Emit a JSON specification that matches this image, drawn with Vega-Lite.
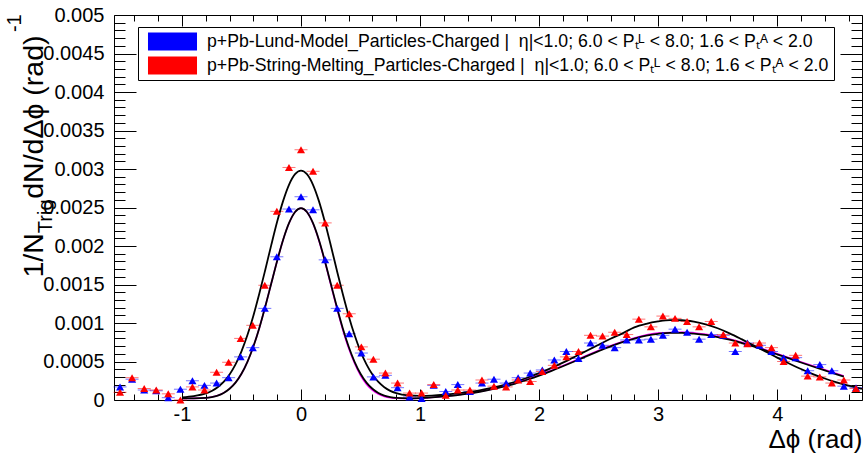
{
"$schema":"https://vega.github.io/schema/vega-lite/v6.json",
"width":748,"height":385,
"autosize":{"type":"none"},
"padding":{"left":114,"top":15,"right":1,"bottom":59},
"background":"white",
"datasets":{
"pts":[
{"x":-1.520,"y":0.00017,"s":"Lund"},{"x":-1.419,"y":0.00027,"s":"Lund"},{"x":-1.317,"y":0.00013,"s":"Lund"},{"x":-1.216,"y":0.00012,"s":"Lund"},{"x":-1.115,"y":0.00003,"s":"Lund"},{"x":-1.013,"y":0.00014,"s":"Lund"},{"x":-0.912,"y":0.00025,"s":"Lund"},{"x":-0.811,"y":0.00019,"s":"Lund"},{"x":-0.709,"y":0.00022,"s":"Lund"},{"x":-0.608,"y":0.00029,"s":"Lund"},{"x":-0.507,"y":0.00056,"s":"Lund"},{"x":-0.405,"y":0.00068,"s":"Lund"},{"x":-0.304,"y":0.00119,"s":"Lund"},{"x":-0.203,"y":0.00186,"s":"Lund"},{"x":-0.101,"y":0.00248,"s":"Lund"},{"x":0,"y":0.00264,"s":"Lund"},{"x":0.101,"y":0.00247,"s":"Lund"},{"x":0.203,"y":0.00182,"s":"Lund"},{"x":0.304,"y":0.00119,"s":"Lund"},{"x":0.405,"y":0.00086,"s":"Lund"},{"x":0.507,"y":0.00061,"s":"Lund"},{"x":0.608,"y":0.00030,"s":"Lund"},{"x":0.709,"y":0.00032,"s":"Lund"},{"x":0.811,"y":0.00016,"s":"Lund"},{"x":0.912,"y":0.00004,"s":"Lund"},{"x":1.013,"y":0.00002,"s":"Lund"},{"x":1.115,"y":0.00019,"s":"Lund"},{"x":1.216,"y":0.00011,"s":"Lund"},{"x":1.317,"y":0.00020,"s":"Lund"},{"x":1.419,"y":0.00011,"s":"Lund"},{"x":1.520,"y":0.00022,"s":"Lund"},{"x":1.621,"y":0.00027,"s":"Lund"},{"x":1.723,"y":0.00022,"s":"Lund"},{"x":1.824,"y":0.00029,"s":"Lund"},{"x":1.925,"y":0.00035,"s":"Lund"},{"x":2.027,"y":0.00039,"s":"Lund"},{"x":2.128,"y":0.00052,"s":"Lund"},{"x":2.229,"y":0.00063,"s":"Lund"},{"x":2.331,"y":0.00054,"s":"Lund"},{"x":2.432,"y":0.00074,"s":"Lund"},{"x":2.533,"y":0.00071,"s":"Lund"},{"x":2.635,"y":0.00068,"s":"Lund"},{"x":2.736,"y":0.00078,"s":"Lund"},{"x":2.838,"y":0.00078,"s":"Lund"},{"x":2.939,"y":0.00079,"s":"Lund"},{"x":3.040,"y":0.00084,"s":"Lund"},{"x":3.142,"y":0.00092,"s":"Lund"},{"x":3.243,"y":0.00088,"s":"Lund"},{"x":3.344,"y":0.00079,"s":"Lund"},{"x":3.446,"y":0.00085,"s":"Lund"},{"x":3.547,"y":0.00084,"s":"Lund"},{"x":3.648,"y":0.00063,"s":"Lund"},{"x":3.750,"y":0.00074,"s":"Lund"},{"x":3.851,"y":0.00071,"s":"Lund"},{"x":3.952,"y":0.00063,"s":"Lund"},{"x":4.054,"y":0.00055,"s":"Lund"},{"x":4.155,"y":0.00055,"s":"Lund"},{"x":4.256,"y":0.00038,"s":"Lund"},{"x":4.358,"y":0.00046,"s":"Lund"},{"x":4.459,"y":0.00038,"s":"Lund"},{"x":4.560,"y":0.00018,"s":"Lund"},{"x":4.662,"y":0.00016,"s":"Lund"},
{"x":-1.520,"y":0.00010,"s":"String"},{"x":-1.419,"y":0.00029,"s":"String"},{"x":-1.317,"y":0.00015,"s":"String"},{"x":-1.216,"y":0.00013,"s":"String"},{"x":-1.115,"y":0.00008,"s":"String"},{"x":-1.013,"y":0.00000,"s":"String"},{"x":-0.912,"y":0.00017,"s":"String"},{"x":-0.811,"y":0.00013,"s":"String"},{"x":-0.709,"y":0.00036,"s":"String"},{"x":-0.608,"y":0.00049,"s":"String"},{"x":-0.507,"y":0.00080,"s":"String"},{"x":-0.405,"y":0.00097,"s":"String"},{"x":-0.304,"y":0.00149,"s":"String"},{"x":-0.203,"y":0.00245,"s":"String"},{"x":-0.101,"y":0.00302,"s":"String"},{"x":0,"y":0.00325,"s":"String"},{"x":0.101,"y":0.00297,"s":"String"},{"x":0.203,"y":0.00230,"s":"String"},{"x":0.304,"y":0.00149,"s":"String"},{"x":0.405,"y":0.00112,"s":"String"},{"x":0.507,"y":0.00069,"s":"String"},{"x":0.608,"y":0.00053,"s":"String"},{"x":0.709,"y":0.00035,"s":"String"},{"x":0.811,"y":0.00022,"s":"String"},{"x":0.912,"y":0.00009,"s":"String"},{"x":1.013,"y":0.00009,"s":"String"},{"x":1.115,"y":0.00020,"s":"String"},{"x":1.216,"y":0.00006,"s":"String"},{"x":1.317,"y":0.00013,"s":"String"},{"x":1.419,"y":0.00013,"s":"String"},{"x":1.520,"y":0.00026,"s":"String"},{"x":1.621,"y":0.00018,"s":"String"},{"x":1.723,"y":0.00017,"s":"String"},{"x":1.824,"y":0.00026,"s":"String"},{"x":1.925,"y":0.00024,"s":"String"},{"x":2.027,"y":0.00037,"s":"String"},{"x":2.128,"y":0.00045,"s":"String"},{"x":2.229,"y":0.00056,"s":"String"},{"x":2.331,"y":0.00063,"s":"String"},{"x":2.432,"y":0.00084,"s":"String"},{"x":2.533,"y":0.00083,"s":"String"},{"x":2.635,"y":0.00088,"s":"String"},{"x":2.736,"y":0.00085,"s":"String"},{"x":2.838,"y":0.00105,"s":"String"},{"x":2.939,"y":0.00095,"s":"String"},{"x":3.040,"y":0.00109,"s":"String"},{"x":3.142,"y":0.00106,"s":"String"},{"x":3.243,"y":0.00102,"s":"String"},{"x":3.344,"y":0.00095,"s":"String"},{"x":3.446,"y":0.00102,"s":"String"},{"x":3.547,"y":0.00085,"s":"String"},{"x":3.648,"y":0.00074,"s":"String"},{"x":3.750,"y":0.00073,"s":"String"},{"x":3.851,"y":0.00074,"s":"String"},{"x":3.952,"y":0.00068,"s":"String"},{"x":4.054,"y":0.00050,"s":"String"},{"x":4.155,"y":0.00058,"s":"String"},{"x":4.256,"y":0.00031,"s":"String"},{"x":4.358,"y":0.00030,"s":"String"},{"x":4.459,"y":0.00022,"s":"String"},{"x":4.560,"y":0.00026,"s":"String"},{"x":4.662,"y":0.00015,"s":"String"}
],
"fits":[
{"x":-1.0,"y":0.000035,"c":"R"},{"x":-0.9,"y":0.00005,"c":"R"},{"x":-0.8,"y":0.000085,"c":"R"},{"x":-0.75,"y":0.000117,"c":"R"},{"x":-0.7,"y":0.000165,"c":"R"},{"x":-0.65,"y":0.000234,"c":"R"},{"x":-0.6,"y":0.000331,"c":"R"},{"x":-0.55,"y":0.000462,"c":"R"},{"x":-0.5,"y":0.000632,"c":"R"},{"x":-0.45,"y":0.000843,"c":"R"},{"x":-0.4,"y":0.001095,"c":"R"},{"x":-0.35,"y":0.001382,"c":"R"},{"x":-0.3,"y":0.001692,"c":"R"},{"x":-0.25,"y":0.002011,"c":"R"},{"x":-0.2,"y":0.002317,"c":"R"},{"x":-0.15,"y":0.002586,"c":"R"},{"x":-0.1,"y":0.002798,"c":"R"},{"x":-0.05,"y":0.002933,"c":"R"},{"x":0,"y":0.00298,"c":"R"},{"x":0.05,"y":0.002933,"c":"R"},{"x":0.1,"y":0.002798,"c":"R"},{"x":0.15,"y":0.002586,"c":"R"},{"x":0.2,"y":0.002316,"c":"R"},{"x":0.25,"y":0.00201,"c":"R"},{"x":0.3,"y":0.001691,"c":"R"},{"x":0.35,"y":0.001382,"c":"R"},{"x":0.4,"y":0.001095,"c":"R"},{"x":0.45,"y":0.000843,"c":"R"},{"x":0.5,"y":0.000631,"c":"R"},{"x":0.55,"y":0.000462,"c":"R"},{"x":0.6,"y":0.000331,"c":"R"},{"x":0.65,"y":0.000234,"c":"R"},{"x":0.7,"y":0.000166,"c":"R"},{"x":0.75,"y":0.000119,"c":"R"},{"x":0.8,"y":0.000089,"c":"R"},{"x":0.9,"y":0.00006,"c":"R"},{"x":1.0,"y":0.000054,"c":"R"},{"x":1.1,"y":0.000058,"c":"R"},{"x":1.2,"y":0.000068,"c":"R"},{"x":1.3,"y":0.000082,"c":"R"},{"x":1.4,"y":0.000101,"c":"R"},{"x":1.5,"y":0.000125,"c":"R"},{"x":1.6,"y":0.000156,"c":"R"},{"x":1.7,"y":0.000193,"c":"R"},{"x":1.8,"y":0.000237,"c":"R"},{"x":1.9,"y":0.000289,"c":"R"},{"x":2.0,"y":0.000348,"c":"R"},{"x":2.1,"y":0.000414,"c":"R"},{"x":2.2,"y":0.000486,"c":"R"},{"x":2.3,"y":0.000562,"c":"R"},{"x":2.4,"y":0.00064,"c":"R"},{"x":2.5,"y":0.000717,"c":"R"},{"x":2.6,"y":0.000795,"c":"R"},{"x":2.7,"y":0.000865,"c":"R"},{"x":2.8,"y":0.000944,"c":"R"},{"x":2.9,"y":0.00099,"c":"R"},{"x":3.0,"y":0.00102,"c":"R"},{"x":3.1,"y":0.001037,"c":"R"},{"x":3.2,"y":0.001036,"c":"R"},{"x":3.3,"y":0.001018,"c":"R"},{"x":3.4,"y":0.000983,"c":"R"},{"x":3.5,"y":0.000932,"c":"R"},{"x":3.6,"y":0.000866,"c":"R"},{"x":3.7,"y":0.00079,"c":"R"},{"x":3.8,"y":0.00071,"c":"R"},{"x":3.9,"y":0.00063,"c":"R"},{"x":4.0,"y":0.00055,"c":"R"},{"x":4.1,"y":0.000474,"c":"R"},{"x":4.2,"y":0.000402,"c":"R"},{"x":4.3,"y":0.000337,"c":"R"},{"x":4.4,"y":0.000279,"c":"R"},{"x":4.5,"y":0.000229,"c":"R"},{"x":4.6,"y":0.000186,"c":"R"},{"x":4.712,"y":0.000146,"c":"R"},
{"x":-1.0,"y":0.00002,"c":"B"},{"x":-0.9,"y":0.000021,"c":"B"},{"x":-0.8,"y":0.000027,"c":"B"},{"x":-0.75,"y":0.000038,"c":"B"},{"x":-0.7,"y":0.000058,"c":"B"},{"x":-0.65,"y":0.000092,"c":"B"},{"x":-0.6,"y":0.000146,"c":"B"},{"x":-0.55,"y":0.000226,"c":"B"},{"x":-0.5,"y":0.000341,"c":"B"},{"x":-0.45,"y":0.000496,"c":"B"},{"x":-0.4,"y":0.000695,"c":"B"},{"x":-0.35,"y":0.000936,"c":"B"},{"x":-0.3,"y":0.001214,"c":"B"},{"x":-0.25,"y":0.001512,"c":"B"},{"x":-0.2,"y":0.001809,"c":"B"},{"x":-0.15,"y":0.002081,"c":"B"},{"x":-0.1,"y":0.002299,"c":"B"},{"x":-0.05,"y":0.002442,"c":"B"},{"x":0,"y":0.002492,"c":"B"},{"x":0.05,"y":0.002442,"c":"B"},{"x":0.1,"y":0.002299,"c":"B"},{"x":0.15,"y":0.002081,"c":"B"},{"x":0.2,"y":0.001809,"c":"B"},{"x":0.25,"y":0.001512,"c":"B"},{"x":0.3,"y":0.001214,"c":"B"},{"x":0.35,"y":0.000936,"c":"B"},{"x":0.4,"y":0.000695,"c":"B"},{"x":0.45,"y":0.000496,"c":"B"},{"x":0.5,"y":0.000341,"c":"B"},{"x":0.55,"y":0.000226,"c":"B"},{"x":0.6,"y":0.000146,"c":"B"},{"x":0.65,"y":0.000092,"c":"B"},{"x":0.7,"y":0.000058,"c":"B"},{"x":0.75,"y":0.000038,"c":"B"},{"x":0.8,"y":0.000027,"c":"B"},{"x":0.9,"y":0.000021,"c":"B"},{"x":1.0,"y":0.000024,"c":"B"},{"x":1.1,"y":0.000034,"c":"B"},{"x":1.2,"y":0.000046,"c":"B"},{"x":1.3,"y":0.000061,"c":"B"},{"x":1.4,"y":0.000082,"c":"B"},{"x":1.5,"y":0.000107,"c":"B"},{"x":1.6,"y":0.000137,"c":"B"},{"x":1.7,"y":0.000173,"c":"B"},{"x":1.8,"y":0.000214,"c":"B"},{"x":1.9,"y":0.000263,"c":"B"},{"x":2.0,"y":0.000316,"c":"B"},{"x":2.1,"y":0.000375,"c":"B"},{"x":2.2,"y":0.000438,"c":"B"},{"x":2.3,"y":0.000503,"c":"B"},{"x":2.4,"y":0.00057,"c":"B"},{"x":2.5,"y":0.000634,"c":"B"},{"x":2.6,"y":0.000696,"c":"B"},{"x":2.7,"y":0.000751,"c":"B"},{"x":2.8,"y":0.000798,"c":"B"},{"x":2.9,"y":0.000835,"c":"B"},{"x":3.0,"y":0.00086,"c":"B"},{"x":3.1,"y":0.000873,"c":"B"},{"x":3.2,"y":0.000872,"c":"B"},{"x":3.3,"y":0.000862,"c":"B"},{"x":3.4,"y":0.000845,"c":"B"},{"x":3.5,"y":0.000818,"c":"B"},{"x":3.6,"y":0.000783,"c":"B"},{"x":3.7,"y":0.000742,"c":"B"},{"x":3.8,"y":0.000695,"c":"B"},{"x":3.9,"y":0.000645,"c":"B"},{"x":4.0,"y":0.000593,"c":"B"},{"x":4.1,"y":0.00054,"c":"B"},{"x":4.2,"y":0.000487,"c":"B"},{"x":4.3,"y":0.000435,"c":"B"},{"x":4.4,"y":0.000384,"c":"B"},{"x":4.5,"y":0.000333,"c":"B"},{"x":4.56,"y":0.000303,"c":"B"},
{"x":-1.0,"y":0.00002,"c":"M"},{"x":-0.9,"y":0.000021,"c":"M"},{"x":-0.8,"y":0.000027,"c":"M"},{"x":-0.75,"y":0.000038,"c":"M"},{"x":-0.7,"y":0.000058,"c":"M"},{"x":-0.65,"y":0.000092,"c":"M"},{"x":-0.6,"y":0.000146,"c":"M"},{"x":-0.55,"y":0.000226,"c":"M"},{"x":-0.5,"y":0.000341,"c":"M"},{"x":-0.45,"y":0.000496,"c":"M"},{"x":-0.4,"y":0.000695,"c":"M"},{"x":-0.35,"y":0.000936,"c":"M"},{"x":-0.3,"y":0.001214,"c":"M"},{"x":-0.25,"y":0.001512,"c":"M"},{"x":-0.2,"y":0.001809,"c":"M"},{"x":-0.15,"y":0.002081,"c":"M"},{"x":-0.1,"y":0.002299,"c":"M"},{"x":-0.05,"y":0.002442,"c":"M"},{"x":0,"y":0.00249,"c":"M"},{"x":0.05,"y":0.00244,"c":"M"},{"x":0.1,"y":0.002295,"c":"M"},{"x":0.15,"y":0.002075,"c":"M"},{"x":0.2,"y":0.0018,"c":"M"},{"x":0.25,"y":0.0015,"c":"M"},{"x":0.3,"y":0.0012,"c":"M"},{"x":0.35,"y":0.00092,"c":"M"},{"x":0.4,"y":0.000675,"c":"M"},{"x":0.45,"y":0.000478,"c":"M"},{"x":0.5,"y":0.00032,"c":"M"},{"x":0.55,"y":0.000205,"c":"M"},{"x":0.6,"y":0.000128,"c":"M"},{"x":0.65,"y":0.000078,"c":"M"},{"x":0.7,"y":0.000047,"c":"M"},{"x":0.75,"y":0.00003,"c":"M"},{"x":0.8,"y":0.000022,"c":"M"},{"x":0.9,"y":0.000019,"c":"M"},{"x":1.0,"y":0.000023,"c":"M"},{"x":1.2,"y":0.000046,"c":"M"},{"x":1.4,"y":0.000084,"c":"M"},{"x":1.6,"y":0.000141,"c":"M"},{"x":1.8,"y":0.00022,"c":"M"},{"x":2.0,"y":0.000324,"c":"M"},{"x":2.2,"y":0.000446,"c":"M"},{"x":2.4,"y":0.000578,"c":"M"},{"x":2.6,"y":0.000704,"c":"M"},{"x":2.8,"y":0.000806,"c":"M"},{"x":3.0,"y":0.000868,"c":"M"},{"x":3.2,"y":0.00088,"c":"M"},{"x":3.4,"y":0.000853,"c":"M"},{"x":3.6,"y":0.000791,"c":"M"},{"x":3.8,"y":0.000703,"c":"M"},{"x":4.0,"y":0.000601,"c":"M"},{"x":4.2,"y":0.000495,"c":"M"},{"x":4.4,"y":0.000392,"c":"M"},{"x":4.56,"y":0.000311,"c":"M"}
]
},
"resolve":{"scale":{"x":"shared","y":"shared","color":"shared"},"axis":{"x":"independent","y":"independent"}},
"layer":[
{"data":{"name":"pts"},
 "mark":{"type":"tick","orient":"horizontal","size":13,"thickness":1,"opacity":0.55},
 "encoding":{
  "x":{"field":"x","type":"quantitative","scale":{"domain":[-1.5708,4.7124],"nice":false,"zero":false},
   "axis":{"orient":"bottom","values":[-1,0,1,2,3,4],"labelExpr":"'' + datum.value","ticks":false,"domain":false,"grid":false,"labelFontSize":20,"labelPadding":4,"labelFlush":false,"title":"Δϕ (rad)","titleFontSize":26,"titleFontWeight":"normal","titleAnchor":"end","titleAlign":"right","titleX":748,"titleY":47,"titleBaseline":"alphabetic"}},
  "y":{"field":"y","type":"quantitative","scale":{"domain":[0,0.005],"nice":false,"zero":false},
   "axis":{"orient":"left","values":[0,0.0005,0.001,0.0015,0.002,0.0025,0.003,0.0035,0.004,0.0045,0.005],"format":"~g","ticks":false,"domain":false,"grid":false,"labelFontSize":20,"labelPadding":10,"title":"1/N","titleFontSize":28.5,"titleFontWeight":"normal","titleAngle":270,"titleAlign":"left","titleBaseline":"alphabetic","titleX":-72,"titleY":262}},
  "color":{"field":"s","type":"nominal","scale":{"domain":["Lund","String"],"range":["#0000ff","#ff0000"]},
   "legend":{"title":null,"orient":"none","legendX":24,"legendY":12,"direction":"vertical","padding":5,"strokeColor":"black","fillColor":"white","symbolType":"M-2.58,-0.95H2.58V0.95H-2.58Z","symbolSize":361,"symbolOffset":20,"symbolStrokeWidth":0,"symbolOpacity":1,"labelFont":"Liberation Sans","labelFontSize":17.7,"labelColor":"black","labelOffset":25,"labelLimit":1000,"rowPadding":5,
    "labelExpr":"datum.label === 'Lund' ? 'p+Pb-Lund-Model_Particles-Charged |\u00a0 η|<1.0; 6.0 < Pₜᴸ < 8.0; 1.6 < Pₜᴬ < 2.0' : '\u00a0p+Pb-String-Melting_Particles-Charged |\u00a0 η|<1.0; 6.0 < Pₜᴸ < 8.0; 1.6 < Pₜᴬ < 2.0\u00a0\u00a0\u00a0\u00a0\u00a0'"}}
 }},
{"data":{"name":"fits"},"transform":[{"filter":"datum.c === 'M'"}],
 "mark":{"type":"line","color":"#ff00ff","strokeWidth":1.6,"interpolate":"monotone"},
 "encoding":{
  "x":{"field":"x","type":"quantitative","scale":{"domain":[-1.5708,4.7124],"nice":false,"zero":false},
   "axis":{"orient":"bottom","offset":-11,"values":[-1,0,1,2,3,4],"labels":false,"domain":false,"grid":false,"title":null,"tickColor":"black","tickWidth":1,"tickSize":11}},
  "y":{"field":"y","type":"quantitative","scale":{"domain":[0,0.005],"nice":false,"zero":false},
   "axis":{"orient":"left","offset":-22,"values":[0,0.0005,0.001,0.0015,0.002,0.0025,0.003,0.0035,0.004,0.0045,0.005],"labels":false,"domain":false,"grid":false,"tickColor":"black","tickWidth":1,"tickSize":22,
    "title":"Trig","titleFontSize":20,"titleFontWeight":"normal","titleAngle":270,"titleAlign":"left","titleBaseline":"alphabetic","titleX":-85,"titleY":217.7}}
 }},
{"data":{"name":"fits"},"transform":[{"filter":"datum.c === 'B'"}],
 "mark":{"type":"line","color":"black","strokeWidth":1.8,"interpolate":"monotone"},
 "encoding":{
  "x":{"field":"x","type":"quantitative","scale":{"domain":[-1.5708,4.7124],"nice":false,"zero":false},
   "axis":{"orient":"bottom","offset":-6,"values":[-1.4,-1.2,-0.8,-0.6,-0.4,-0.2,0.2,0.4,0.6,0.8,1.2,1.4,1.6,1.8,2.2,2.4,2.6,2.8,3.2,3.4,3.6,3.8,4.2,4.4,4.6],"labels":false,"domain":false,"grid":false,"title":null,"tickColor":"black","tickWidth":1,"tickSize":6}},
  "y":{"field":"y","type":"quantitative","scale":{"domain":[0,0.005],"nice":false,"zero":false},
   "axis":{"orient":"left","offset":-11,"values":[0.0001,0.0002,0.0003,0.0004,0.0006,0.0007,0.0008,0.0009,0.0011,0.0012,0.0013,0.0014,0.0016,0.0017,0.0018,0.0019,0.0021,0.0022,0.0023,0.0024,0.0026,0.0027,0.0028,0.0029,0.0031,0.0032,0.0033,0.0034,0.0036,0.0037,0.0038,0.0039,0.0041,0.0042,0.0043,0.0044,0.0046,0.0047,0.0048,0.0049],"labels":false,"domain":false,"grid":false,"tickColor":"black","tickWidth":1,"tickSize":11,
    "title":"dN/dΔϕ (rad)","titleFontSize":28.5,"titleFontWeight":"normal","titleAngle":270,"titleAlign":"left","titleBaseline":"alphabetic","titleX":-83,"titleY":183.3}}
 }},
{"data":{"name":"fits"},"transform":[{"filter":"datum.c === 'R'"}],
 "mark":{"type":"line","color":"black","strokeWidth":1.8,"interpolate":"monotone"},
 "encoding":{
  "x":{"field":"x","type":"quantitative","scale":{"domain":[-1.5708,4.7124],"nice":false,"zero":false},
   "axis":{"orient":"top","offset":-11,"values":[-1,0,1,2,3,4],"labels":false,"domain":false,"grid":false,"title":null,"tickColor":"black","tickWidth":1,"tickSize":11}},
  "y":{"field":"y","type":"quantitative","scale":{"domain":[0,0.005],"nice":false,"zero":false},
   "axis":{"orient":"right","offset":-22,"values":[0,0.0005,0.001,0.0015,0.002,0.0025,0.003,0.0035,0.004,0.0045,0.005],"labels":false,"domain":false,"grid":false,"title":null,"tickColor":"black","tickWidth":1,"tickSize":22}}
 }},
{"data":{"name":"pts"},"transform":[{"filter":"datum.s === 'Lund'"}],
 "mark":{"type":"point","shape":"triangle-up","filled":true,"size":65,"opacity":1},
 "encoding":{
  "x":{"field":"x","type":"quantitative","scale":{"domain":[-1.5708,4.7124],"nice":false,"zero":false},
   "axis":{"orient":"top","offset":-6,"values":[-1.4,-1.2,-0.8,-0.6,-0.4,-0.2,0.2,0.4,0.6,0.8,1.2,1.4,1.6,1.8,2.2,2.4,2.6,2.8,3.2,3.4,3.6,3.8,4.2,4.4,4.6],"labels":false,"domain":false,"grid":false,"title":null,"tickColor":"black","tickWidth":1,"tickSize":6}},
  "y":{"field":"y","type":"quantitative","scale":{"domain":[0,0.005],"nice":false,"zero":false},
   "axis":{"orient":"right","offset":-11,"values":[0.0001,0.0002,0.0003,0.0004,0.0006,0.0007,0.0008,0.0009,0.0011,0.0012,0.0013,0.0014,0.0016,0.0017,0.0018,0.0019,0.0021,0.0022,0.0023,0.0024,0.0026,0.0027,0.0028,0.0029,0.0031,0.0032,0.0033,0.0034,0.0036,0.0037,0.0038,0.0039,0.0041,0.0042,0.0043,0.0044,0.0046,0.0047,0.0048,0.0049],"labels":false,"domain":false,"grid":false,"title":null,"tickColor":"black","tickWidth":1,"tickSize":11}},
  "color":{"field":"s","type":"nominal","scale":{"domain":["Lund","String"],"range":["#0000ff","#ff0000"]},
   "legend":{"title":null,"orient":"none","legendX":24,"legendY":12,"direction":"vertical","padding":5,"strokeColor":"black","fillColor":"white","symbolType":"M-2.58,-0.95H2.58V0.95H-2.58Z","symbolSize":361,"symbolOffset":20,"symbolStrokeWidth":0,"symbolOpacity":1,"labelFont":"Liberation Sans","labelFontSize":17.7,"labelColor":"black","labelOffset":25,"labelLimit":1000,"rowPadding":5,
    "labelExpr":"datum.label === 'Lund' ? 'p+Pb-Lund-Model_Particles-Charged |\u00a0 η|<1.0; 6.0 < Pₜᴸ < 8.0; 1.6 < Pₜᴬ < 2.0' : '\u00a0p+Pb-String-Melting_Particles-Charged |\u00a0 η|<1.0; 6.0 < Pₜᴸ < 8.0; 1.6 < Pₜᴬ < 2.0\u00a0\u00a0\u00a0\u00a0\u00a0'"}}
 }},
{"data":{"name":"pts"},"transform":[{"filter":"datum.s === 'String'"}],
 "mark":{"type":"point","shape":"triangle-up","filled":true,"size":65,"opacity":1},
 "encoding":{
  "x":{"field":"x","type":"quantitative","scale":{"domain":[-1.5708,4.7124],"nice":false,"zero":false},"axis":null},
  "y":{"field":"y","type":"quantitative","scale":{"domain":[0,0.005],"nice":false,"zero":false},
   "axis":{"orient":"left","ticks":false,"labels":false,"domain":false,"grid":false,"title":"-1","titleFontSize":20,"titleFontWeight":"normal","titleAngle":270,"titleAlign":"left","titleBaseline":"alphabetic","titleX":-94,"titleY":16.6}},
  "color":{"field":"s","type":"nominal","scale":{"domain":["Lund","String"],"range":["#0000ff","#ff0000"]},
   "legend":{"title":null,"orient":"none","legendX":24,"legendY":12,"direction":"vertical","padding":5,"strokeColor":"black","fillColor":"white","symbolType":"M-2.58,-0.95H2.58V0.95H-2.58Z","symbolSize":361,"symbolOffset":20,"symbolStrokeWidth":0,"symbolOpacity":1,"labelFont":"Liberation Sans","labelFontSize":17.7,"labelColor":"black","labelOffset":25,"labelLimit":1000,"rowPadding":5,
    "labelExpr":"datum.label === 'Lund' ? 'p+Pb-Lund-Model_Particles-Charged |\u00a0 η|<1.0; 6.0 < Pₜᴸ < 8.0; 1.6 < Pₜᴬ < 2.0' : '\u00a0p+Pb-String-Melting_Particles-Charged |\u00a0 η|<1.0; 6.0 < Pₜᴸ < 8.0; 1.6 < Pₜᴬ < 2.0\u00a0\u00a0\u00a0\u00a0\u00a0'"}}
 }}
],
"config":{
 "font":"Liberation Sans",
 "view":{"stroke":"black","strokeWidth":1},
 "axis":{"labelFont":"Liberation Sans","titleFont":"Liberation Sans","labelColor":"black","titleColor":"black"}
}
}
